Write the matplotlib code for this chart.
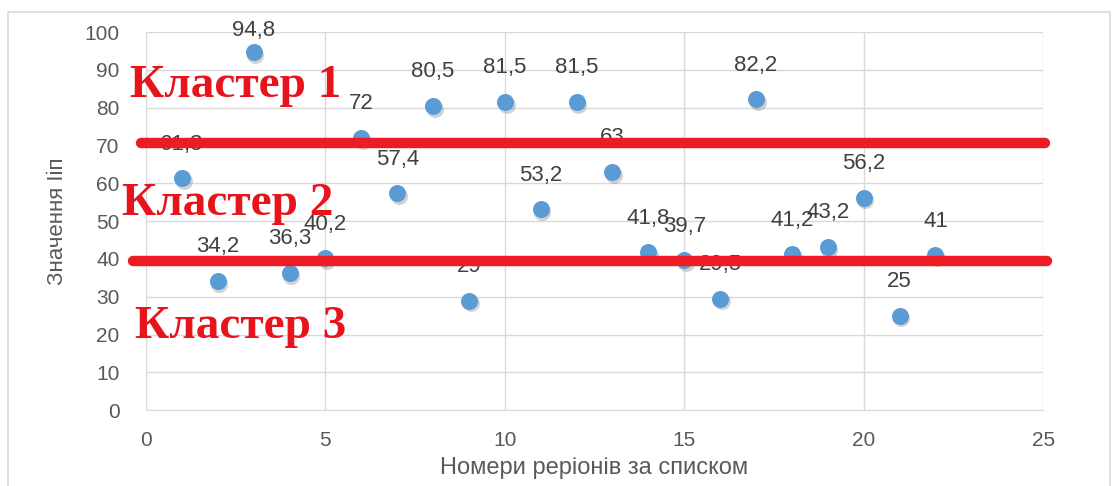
import matplotlib.pyplot as plt
import matplotlib.transforms as mtransforms
from matplotlib.patches import Rectangle

# Region numbers and index values
regions = [1, 2, 3, 4, 5, 6, 7, 8, 9, 10, 11, 12, 13, 14, 15, 16, 17, 18, 19, 20, 21, 22]
values = [61.3, 34.2, 94.8, 36.3, 40.2, 72, 57.4, 80.5, 29, 81.5, 53.2, 81.5,
          63, 41.8, 39.7, 29.5, 82.2, 41.2, 43.2, 56.2, 25, 41]

# Cluster borders and captions
borders = [70.6, 39.4]
cluster_names = ["Кластер 1", "Кластер 2", "Кластер 3"]

x_ticks = [0, 5, 10, 15, 20, 25]
y_ticks = [0, 10, 20, 30, 40, 50, 60, 70, 80, 90, 100]

plt.rcParams['font.family'] = ['Liberation Sans', 'DejaVu Sans']

fig = plt.figure(figsize=(11.18, 4.86), dpi=100)
ax = fig.add_axes([0.1306, 0.156, 0.8024, 0.778])

# frame round the whole chart
fig.patches.append(Rectangle((0.007, -0.05), 0.986, 1.025, transform=fig.transFigure,
                             fill=False, edgecolor='#d9d9d9', linewidth=1.2))

# soft shadow under the markers
shadow = mtransforms.offset_copy(ax.transData, fig=fig, x=1.2, y=-2.0, units='points')
ax.scatter(regions, values, s=150, color='#7f7f7f', alpha=0.35, linewidths=0,
           transform=shadow, zorder=2)
ax.scatter(regions, values, s=150, color='#5b9bd5', linewidths=0, zorder=3)

for x, v in zip(regions, values):
    label = f"{v:g}".replace('.', ',')
    ax.text(x, min(v + 9.0, 100.4), label, ha='center', va='center',
            fontsize=16, color='#404040', zorder=4)

# red cluster borders
ax.plot([-0.14, 25.05], [borders[0]] * 2, color='#ed1c24', lw=7.5,
        solid_capstyle='round', clip_on=False, zorder=5)
ax.plot([-0.36, 25.1], [borders[1]] * 2, color='#ed1c24', lw=7.5,
        solid_capstyle='round', clip_on=False, zorder=5)

caption_pos = [(-0.45, 82.8), (-0.67, 51.6), (-0.31, 19.0)]
for name, (cx, cy) in zip(cluster_names, caption_pos):
    ax.text(cx, cy, name, ha='left', va='baseline', fontsize=34,
            fontweight='bold', family='Liberation Serif', color='#e8141c', zorder=6)

ax.set_xlim(0, 25)
ax.set_ylim(0, 100)
ax.set_xticks(x_ticks)
ax.set_yticks(y_ticks)
ax.tick_params(length=0, labelsize=15, labelcolor='#595959')
ax.tick_params(axis='y', pad=19)
ax.tick_params(axis='x', pad=15)
ax.grid(True, color='#d9d9d9', linewidth=1.0)
ax.set_axisbelow(True)
for side in ['top', 'right']:
    ax.spines[side].set_visible(False)
for side in ['left', 'bottom']:
    ax.spines[side].set_color('#d9d9d9')

ax.set_xlabel("Номери реріонів за списком", fontsize=17, color='#595959', labelpad=5)
ax.set_ylabel("Значення Ііп", fontsize=16, color='#595959', labelpad=12)

fig.savefig('out.png', dpi=100)
